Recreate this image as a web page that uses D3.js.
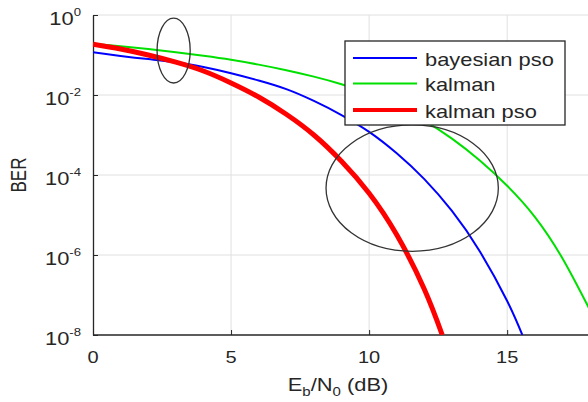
<!DOCTYPE html>
<html><head><meta charset="utf-8">
<script src="https://cdn.jsdelivr.net/npm/d3@7"></script>
<style>
body{margin:0;background:#fff}
svg{display:block}
text{font-family:"Liberation Sans",Arial,sans-serif;fill:#262626}
</style></head><body>
<svg id="c" width="588" height="402"></svg>
<script>
// ---- data ----
const xBayes = [0,1,2,3,4,5,6,7,8,9,10,11,12,13,14,15,15.55];
const berBayes = [1.17e-1,9.5e-2,7.9e-2,6.6e-2,5.0e-2,3.5e-2,2.3e-2,1.4e-2,7.1e-3,3.16e-3,1.2e-3,3.5e-4,7.9e-5,1.26e-5,1.26e-6,7.1e-8,1.0e-8];
const xKalman = [0,1,2,3,4,5,6,7,8,9,10,11,12,13,14,15,16,17,18];
const berKalman = [1.9e-1,1.66e-1,1.41e-1,1.175e-1,9.55e-2,7.59e-2,5.75e-2,4.17e-2,2.88e-2,1.86e-2,1.07e-2,5.37e-3,2.29e-3,8.13e-4,2.34e-4,5.37e-5,9.0e-6,8.3e-7,4.17e-8];
const xKpso = [0,1,2,3,4,5,6,7,8,9,10,11,12,12.65];
const berKpso = [1.86e-1,1.41e-1,1.0e-1,6.6e-2,3.98e-2,2.0e-2,8.9e-3,3.3e-3,1.0e-3,2.2e-4,3.5e-5,3.2e-6,1.4e-7,1.0e-8];
const seriesNames = ["bayesian pso","kalman","kalman pso"];
const xTicks = [0,5,10,15];
const yTickExp = [0,-2,-4,-6,-8];
// annotation ellipses: center (x, BER), half-width in dB, half-height in decades
const ellipses = [
  {cx:2.92, cy:1.29e-1, rx:0.6, ry:0.81},
  {cx:11.56, cy:4.7e-5, rx:3.12, ry:1.58}
];

// ---- layout ----
const svg = d3.select("#c");
const L = 93, R = 590, T = 15, B = 335;
const SX = 1.25; // horizontal stretch of text in the reference
const x = d3.scaleLinear().domain([0,18]).range([L,R]);
const y = d3.scaleLog().domain([1e-8,1]).range([B,T]);
const axisCol = "#262626";

svg.append("defs").append("clipPath").attr("id","clip")
  .append("rect").attr("x",L).attr("y",T-3).attr("width",588-L).attr("height",B-T+3);

// grid
const grid = svg.append("g").attr("stroke","#e0e0e0").attr("stroke-width",1);
xTicks.filter(d=>d>0).forEach(d=>grid.append("line")
  .attr("x1",x(d)).attr("x2",x(d)).attr("y1",T).attr("y2",B));
yTickExp.filter(e=>e>-8).forEach(e=>grid.append("line")
  .attr("x1",L).attr("x2",588).attr("y1",y(Math.pow(10,e))).attr("y2",y(Math.pow(10,e))));

// axes (ticks inward)
const xAxis = svg.append("g").attr("transform",`translate(0,${B})`)
  .call(d3.axisBottom(x).tickValues(xTicks).tickSizeInner(-5).tickSizeOuter(0).tickFormat(""));
const yAxis = svg.append("g").attr("transform",`translate(${L},0)`)
  .call(d3.axisLeft(y).tickValues(yTickExp.map(e=>Math.pow(10,e))).tickSizeInner(-5).tickSizeOuter(0).tickFormat(""));
[xAxis,yAxis].forEach(a=>{
  a.select(".domain").attr("stroke",axisCol).attr("stroke-width",1.3);
  a.selectAll(".tick line").attr("stroke",axisCol).attr("stroke-width",1);
});
xAxis.select(".domain").attr("d",`M${L},0H588`);

// x tick labels
xTicks.forEach(d=>{
  svg.append("g").attr("transform",`translate(${x(d)},363) scale(${SX},1)`)
    .append("text").attr("text-anchor","middle").attr("font-size",16).text(d);
});
// y tick labels 10^e
yTickExp.forEach(e=>{
  const g = svg.append("g").attr("transform",`translate(81,${y(Math.pow(10,e))+10}) scale(${SX},1)`);
  const t = g.append("text").attr("text-anchor","end").attr("font-size",17.5);
  t.append("tspan").text("10");
  t.append("tspan").attr("font-size",10.5).attr("dy",-9).text(e===0?"0":"-"+(-e));
});

// axis titles
{
  const g = svg.append("g").attr("transform",`translate(338,391) scale(${SX},1)`);
  const t = g.append("text").attr("text-anchor","middle").attr("font-size",17.5);
  t.append("tspan").text("E");
  t.append("tspan").attr("font-size",12).attr("dy",5).text("b");
  t.append("tspan").attr("dy",-5).text("/N");
  t.append("tspan").attr("font-size",12).attr("dy",5).text("0");
  t.append("tspan").attr("dy",-5).text(" (dB)");
  const g2 = svg.append("g").attr("transform",`translate(26,175) scale(${SX},1)`);
  g2.append("text").attr("transform","rotate(-90)").attr("text-anchor","middle").attr("font-size",17).text("BER");
}

// curves
const plot = svg.append("g").attr("clip-path","url(#clip)");
const line = d3.line().x(d=>x(d[0])).y(d=>y(d[1])).curve(d3.curveNatural);
const series = [
  {xs:xBayes, ys:berBayes, color:"#0000ff", w:2},
  {xs:xKalman, ys:berKalman, color:"#00e000", w:2},
  {xs:xKpso, ys:berKpso, color:"#ff0000", w:5}
];
series.forEach(s=>{
  plot.append("path").attr("d",line(s.xs.map((v,i)=>[v,s.ys[i]])))
    .attr("fill","none").attr("stroke",s.color).attr("stroke-width",s.w).attr("stroke-linejoin","round");
});

// ellipses
ellipses.forEach(e=>{
  const cx = x(e.cx), cy = y(e.cy);
  const rx = x(e.rx)-x(0);
  const ry = y(1e-8)-y(Math.pow(10,-8+e.ry));
  svg.append("ellipse").attr("cx",cx).attr("cy",cy).attr("rx",rx).attr("ry",ry)
    .attr("fill","none").attr("stroke","#333").attr("stroke-width",1.3);
});

// legend
const lg = svg.append("g");
lg.append("rect").attr("x",345).attr("y",41).attr("width",220).attr("height",84)
  .attr("fill","#fff").attr("stroke","#262626").attr("stroke-width",1.3);
const rowsY = [58,83.5,110];
series.forEach((s,i)=>{
  lg.append("line").attr("x1",353).attr("x2",417).attr("y1",rowsY[i]).attr("y2",rowsY[i])
    .attr("stroke",s.color).attr("stroke-width",s.w===5?4:2);
  lg.append("g").attr("transform",`translate(425,${rowsY[i]+7.5}) scale(${SX},1)`)
    .append("text").attr("font-size",17.5).text(seriesNames[i]);
});
</script>
</body></html>
